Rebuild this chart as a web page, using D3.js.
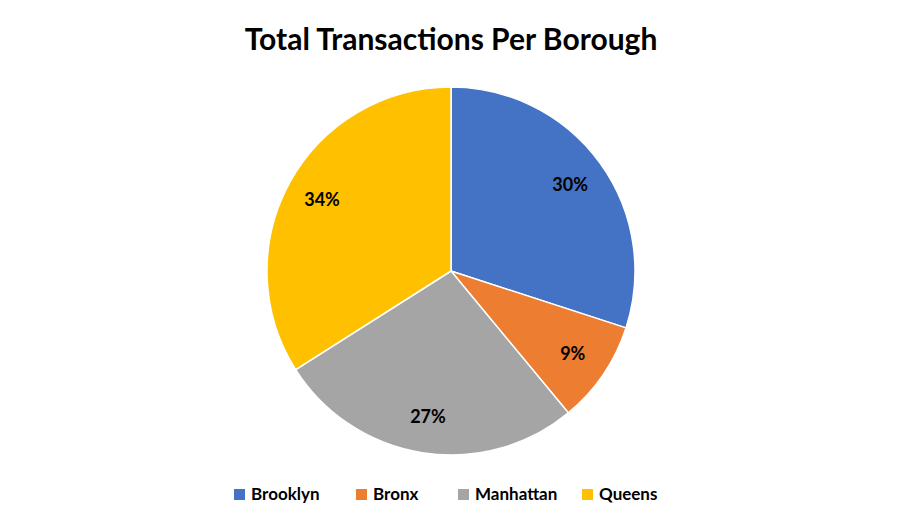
<!DOCTYPE html>
<html><head><meta charset="utf-8">
<script src="https://cdn.jsdelivr.net/npm/d3@7"></script>
<style>body{margin:0;background:#fff}</style></head>
<body><svg id="c" width="901" height="528"></svg>
<script>
const categories = ["Brooklyn","Bronx","Manhattan","Queens"];
const values = [30, 9, 27, 34];
const colors = ["#4472C4","#ED7D31","#A5A5A5","#FFC000"];
const title = "Total Transactions Per Borough";

const svg = d3.select("#c");
const font = "Lato, 'Open Sans', sans-serif";
svg.append("text").attr("x",451).attr("y",50).attr("text-anchor","middle")
  .attr("font-family",font).attr("font-weight","bold").attr("font-size",30).attr("fill","#000").text(title);

const cx=451, cy=271, r=184;
const pie = d3.pie().sort(null).value(d=>d)(values);
const arc = d3.arc().innerRadius(0).outerRadius(r);
const lab = d3.arc().innerRadius(r*0.8).outerRadius(r*0.8);
const g = svg.append("g").attr("transform",`translate(${cx},${cy})`);
g.selectAll("path").data(pie).join("path").attr("d",arc)
  .attr("fill",(d,i)=>colors[i]).attr("stroke","#fff").attr("stroke-width",1.5);
const total = d3.sum(values);
g.selectAll("text").data(pie).join("text")
  .attr("transform",d=>`translate(${lab.centroid(d)})`)
  .attr("text-anchor","middle").attr("dy","0.35em")
  .attr("font-family",font).attr("font-weight","bold").attr("font-size",18).attr("fill","#000")
  .text(d=>Math.round(d.data/total*100)+"%");

const leg = svg.append("g");
const widths = [122, 102, 124, 90];
let x = 234;
categories.forEach((c,i)=>{
  leg.append("rect").attr("x",x).attr("y",489).attr("width",11).attr("height",11).attr("fill",colors[i]);
  leg.append("text").attr("x",x+17).attr("y",500).attr("font-family",font).attr("font-weight","bold")
    .attr("font-size",17).attr("fill","#000").text(c);
  x += widths[i];
});
</script></body></html>
